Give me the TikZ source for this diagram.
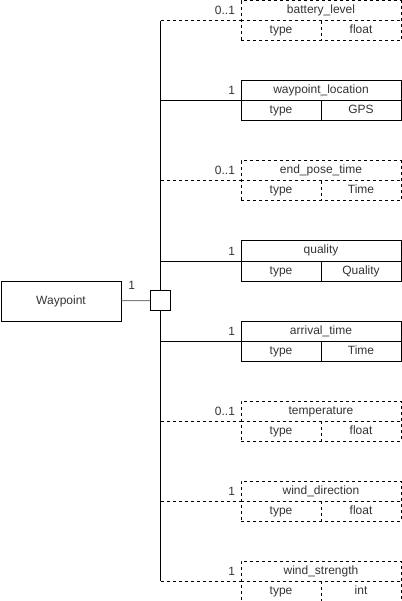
\documentclass[tikz,border=0pt]{standalone}
\usepackage{fontspec}
\setmainfont{Liberation Sans}
\begin{document}
\begin{tikzpicture}[x=1pt,y=-1pt,line width=1pt,
  every node/.style={text=black!80,font=\fontsize{12}{14}\selectfont,text height=8.6pt,text depth=2.6pt},
  tbl/.style={draw, minimum width=160pt, minimum height=40pt, inner sep=0pt, anchor=north west},
  txt/.style={minimum height=20pt, inner sep=0pt},
  dashed/.style={dash pattern=on 3pt off 3pt},
  mult/.style={anchor=east, inner sep=0pt}]
\useasboundingbox (0,0) rectangle (401,601);
\begin{scope}[shift={(0.5,0.5)}]
\node[draw, minimum width=120pt, minimum height=40pt, inner sep=0pt, anchor=north west] (wp) at (0,280) {Waypoint};
\node[draw, minimum size=20pt, inner sep=0pt, fill=white] (sq) at (160,300) {};
\draw[black!50] (wp) -- (sq);
\node[mult] (wm) at (135,286) {1};
\foreach \i/\y/\n/\v/\s/\m in {
  1/0/battery\_level/float/dashed/0..1,
  2/80/waypoint\_location/GPS/solid/1,
  3/160/end\_pose\_time/Time/dashed/0..1,
  4/240/quality/Quality/solid/1,
  5/320/arrival\_time/Time/solid/1,
  6/400/temperature/float/dashed/0..1,
  7/480/wind\_direction/float/dashed/1,
  8/560/wind\_strength/int/dashed/1}{
  \node[tbl,\s] (t\i) at (240,\y) {};
  \draw[\s] (t\i.west) -- (t\i.east);
  \draw[\s] (t\i.center) -- (t\i.south);
  \node[txt] (h\i) at ([yshift=10pt]t\i.north |- t\i.center) {\n};
  \node[txt] (a\i) at ([xshift=-40pt,yshift=-10pt]t\i.center) {type};
  \node[txt] (b\i) at ([xshift=40pt,yshift=-10pt]t\i.center) {\v};
  \coordinate (c\i) at (sq.center |- t\i.west);
  \draw[\s] (c\i) -- (t\i.west);
  \node[mult] (m\i) at ([xshift=-5pt,yshift=-1pt]t\i.north west |- h\i.center) {\m};
}
\draw (sq.north) -- (c1);
\draw (sq.south) -- (c8);
\end{scope}
\end{tikzpicture}
\end{document}
